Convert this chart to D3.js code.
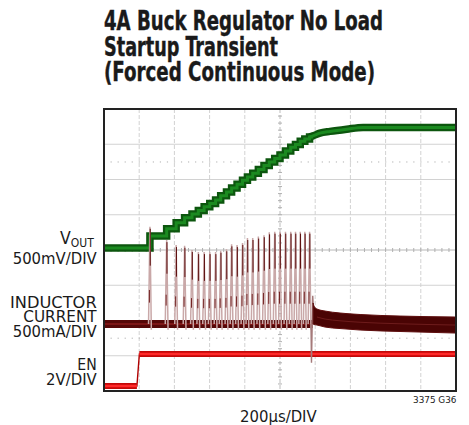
<!DOCTYPE html>
<html>
<head>
<meta charset="utf-8">
<script src="https://cdn.jsdelivr.net/npm/d3@7"></script>
<style>
  html, body { margin: 0; padding: 0; background: #fff; }
  svg { display: block; }
  text { font-family: "Liberation Sans Narrow", "DejaVu Sans Condensed", "Liberation Sans", Arial, sans-serif; fill: #1a1a1a; }
</style>
</head>
<body>
<svg id="chart" width="469" height="425"></svg>
<script>
// ---------------- DATA ----------------
const titleLines = ["4A Buck Regulator No Load", "Startup Transient", "(Forced Continuous Mode)"];
const timePerDiv = 200;            // µs / div
const xLabel = "200\u03bcs/DIV";
const figId = "3375 G36";

// switching pulse instants (µs)
const pulseTimes = [261, 356, 410, 458, 500, 536, 569, 601, 634, 663, 696, 725, 756, 787, 815, 845, 877, 909, 939, 970, 1000, 1031, 1061, 1088, 1115, 1141, 1168];
// inductor current peak of each pulse (A)
const pulsePeaks = [1.38, 1.19, 1.12, 1.11, 1.05, 1.02, 1.02, 1.02, 1.02, 1.04, 1.06, 1.13, 1.12, 1.15, 1.22, 1.22, 1.24, 1.26, 1.30, 1.31, 1.31, 1.31, 1.31, 1.31, 1.31, 1.31, 1.31];
const pulseDip = -0.08;            // A, undershoot of each pulse
// VOUT level after each pulse (V)
const voutSteps = [0.17, 0.27, 0.355, 0.426, 0.482, 0.532, 0.582, 0.631, 0.681, 0.738, 0.794, 0.851, 0.901, 0.958, 1.007, 1.057, 1.113, 1.170, 1.220, 1.269, 1.319, 1.376, 1.426, 1.468, 1.511, 1.546, 1.574];
// VOUT settling tail (µs, V)
const voutTailT = [1168, 1187, 1227, 1284, 1379, 1472, 2000];
const voutTailV = [1.574, 1.589, 1.627, 1.652, 1.684, 1.709, 1.709];
// inductor current in forced continuous mode (envelope, µs / A)
const ilTransT = 1176;  const ilTransMin = -0.55;
const ilKickT = 1186;   const ilKickMax = 0.40;
const ilEnvT = [1188, 1193, 1210, 1256, 1341, 1455, 1682, 2000];
const ilEnvTop = [0.30, 0.255, 0.213, 0.184, 0.156, 0.135, 0.113, 0.099];
const ilEnvBot = [0.0, -0.007, -0.014, -0.043, -0.064, -0.085, -0.106, -0.128];
// EN (µs, V)
const enT = [0, 187, 201, 2000];
const enV = [0, 0, 1.82, 1.82];
// channel setup: ground position (divisions from centre), units per div
const chVout = { ground: 0.06, perDiv: 0.5 };
const chIL = { ground: -2.1, perDiv: 0.5 };
const chEN = { ground: -3.86, perDiv: 2 };
const leftLabels = ["500mV/DIV", "INDUCTOR", "CURRENT", "500mA/DIV", "EN", "2V/DIV"];

// ---------------- LAYOUT ----------------
const svg = d3.select("#chart");
const L = 104, R = 456, T = 109, B = 391;
const x = d3.scaleLinear().domain([0, 10 * timePerDiv]).range([L, R]);
const yDiv = d3.scaleLinear().domain([-4, 4]).range([B, T]);
const chScale = ch => d3.scaleLinear().domain([(-4 - ch.ground) * ch.perDiv, (4 - ch.ground) * ch.perDiv]).range([B, T]);
const yV = chScale(chVout), yI = chScale(chIL), yE = chScale(chEN);

// ---------------- GRID ----------------
const g = svg.append("g");
d3.range(1, 8).forEach(d => {
  g.append("line").attr("x1", L).attr("x2", R).attr("y1", yDiv(d - 4)).attr("y2", yDiv(d - 4))
    .attr("stroke", d === 4 ? "#b8b8b8" : "#d2d2d2").attr("stroke-width", 1);
});
d3.range(1, 10).forEach(d => {
  g.append("line").attr("y1", T).attr("y2", B).attr("x1", x(d * timePerDiv)).attr("x2", x(d * timePerDiv))
    .attr("stroke", d === 5 ? "#bcbcbc" : "#d2d2d2").attr("stroke-width", 1).attr("stroke-dasharray", "4,2");
});
// minor ticks on centre lines
d3.range(0, 50).forEach(k => {
  const xx = x(k * timePerDiv / 5);
  g.append("line").attr("x1", xx).attr("x2", xx).attr("y1", yDiv(0) - 2).attr("y2", yDiv(0) + 2).attr("stroke", "#b0b0b0");
});
d3.range(0, 40).forEach(k => {
  const yy = yDiv(-4 + k / 5);
  g.append("line").attr("y1", yy).attr("y2", yy).attr("x1", x(1000) - 2).attr("x2", x(1000) + 2).attr("stroke", "#b0b0b0");
});
// dotted marker rows
[2.5, -2.5].forEach(dv => {
  d3.range(1, 50).forEach(k => {
    g.append("rect").attr("x", x(k * timePerDiv / 5) - 0.5).attr("y", yDiv(dv) - 0.5).attr("width", 1.2).attr("height", 1.2).attr("fill", "#bdbdbd");
  });
});

// ---------------- TRACES ----------------
const tr = svg.append("g");
// EN
const enPts = enT.map((t, i) => [t, enV[i]]);
tr.append("path").attr("d", d3.line().x(d => x(d[0])).y(d => yE(d[1]))(enPts))
  .attr("fill", "none").attr("stroke", "#b00000").attr("stroke-width", 1.4);
for (let i = 0; i < enPts.length - 1; i++) {
  if (enPts[i][1] === enPts[i + 1][1]) {
    const seg = [enPts[i], enPts[i + 1]];
    const ln = d3.line().x(d => x(d[0])).y(d => yE(d[1]));
    tr.append("path").attr("d", ln(seg)).attr("stroke", "#c40808").attr("stroke-width", 6).attr("fill", "none");
    tr.append("path").attr("d", ln(seg)).attr("stroke", "#ff2a2a").attr("stroke-width", 2.4).attr("fill", "none");
  }
}

// VOUT
const voutPts = [[0, 0]].concat(pulseTimes.map((t, i) => [t, voutSteps[i]])).concat([[voutTailT[1], voutSteps[voutSteps.length - 1]]]);
const stepLine = d3.line().x(d => x(d[0])).y(d => yV(d[1])).curve(d3.curveStepAfter);
const tailPts = voutTailT.map((t, i) => [t, voutTailV[i]]);
const tailLine = d3.line().x(d => x(d[0])).y(d => yV(d[1])).curve(d3.curveMonotoneX);
[["#0c560e", 7.5], ["#1b8a20", 3]].forEach(([c, w]) => {
  tr.append("path").attr("d", stepLine(voutPts)).attr("fill", "none").attr("stroke", c).attr("stroke-width", w);
  tr.append("path").attr("d", tailLine(tailPts)).attr("fill", "none").attr("stroke", c).attr("stroke-width", w);
});

// Inductor current — discontinuous part baseline
const baseLn = d3.line().x(d => x(d[0])).y(d => yI(d[1]));
tr.append("path").attr("d", baseLn([[0, 0], [ilKickT, 0]])).attr("stroke", "#560808").attr("stroke-width", 8).attr("fill", "none");
tr.append("path").attr("d", baseLn([[0, 0], [ilKickT, 0]])).attr("stroke", "#7c1616").attr("stroke-width", 2).attr("fill", "none");
// pulses
pulseTimes.forEach((t, i) => {
  const xp = x(t);
  const tri = `M${xp - 1.4},${yI(0)} L${xp},${yI(pulsePeaks[i])} L${xp + 1.4},${yI(pulseDip)}`;
  tr.append("path").attr("d", tri).attr("fill", "none").attr("stroke", "#c9a8a8").attr("stroke-width", 1.5);
  tr.append("line").attr("x1", xp + 0.3).attr("x2", xp + 0.3).attr("y1", yI(pulsePeaks[i]) + 2).attr("y2", yI((pulsePeaks[i]) * 0.6))
    .attr("stroke", "#5a0c0c").attr("stroke-width", 1);
  tr.append("line").attr("x1", xp - 0.5).attr("x2", xp - 0.5).attr("y1", yI(pulsePeaks[i] * 0.35)).attr("y2", yI(pulsePeaks[i] * 0.22))
    .attr("stroke", "#6a1414").attr("stroke-width", 0.9);
});
// transition
tr.append("path").attr("d", `M${x(ilTransT)},${yI(0)} L${x(ilTransT) + 0.5},${yI(ilTransMin)} L${x(ilKickT)},${yI(ilKickMax)} L${x(ilEnvT[0])},${yI(ilEnvTop[0])}`)
  .attr("fill", "none").attr("stroke", "#a57a7a").attr("stroke-width", 1.4);
// continuous envelope
const envPts = ilEnvT.map((t, i) => ({ t, top: ilEnvTop[i], bot: ilEnvBot[i] }));
tr.append("path").attr("d", d3.area().x(d => x(d.t)).y0(d => yI(d.bot)).y1(d => yI(d.top)).curve(d3.curveMonotoneX)(envPts))
  .attr("fill", "#4a0404").attr("stroke", "#5e0d0d").attr("stroke-width", 1);
tr.append("path").attr("d", d3.line().x(d => x(d.t)).y(d => yI((d.top + d.bot) / 2)).curve(d3.curveMonotoneX)(envPts.slice(2)))
  .attr("fill", "none").attr("stroke", "#6e1c1c").attr("stroke-width", 1);

// frame
svg.append("rect").attr("x", L).attr("y", T).attr("width", R - L).attr("height", B - T)
  .attr("fill", "none").attr("stroke", "#222").attr("stroke-width", 2);

// ---------------- TEXT ----------------
const fit = (sel, w) => sel.attr("textLength", w).attr("lengthAdjust", "spacingAndGlyphs");
const titleW = [279, 174, 271];
const titleY = [30, 55.5, 81];
titleLines.forEach((s, i) => {
  fit(svg.append("text").attr("x", 104).attr("y", titleY[i]).attr("font-size", 26).attr("font-weight", "bold")
    .style("stroke", "#1a1a1a").style("stroke-width", 0.4).text(s), titleW[i]);
});

// VOUT label with subscript
const vt = svg.append("text").attr("x", 60).attr("y", 243.5).attr("font-size", 17.5);
vt.append("tspan").text("V");
vt.append("tspan").attr("font-size", 12).attr("dy", 3).text("OUT");

const labY = [263.5, 307.5, 322, 336.5, 370, 384.5];
const labX = [12.7, 10, 23.3, 12.7, 77.3, 46];
leftLabels.forEach((s, i) => {
  fit(svg.append("text").attr("x", labX[i]).attr("y", labY[i]).attr("font-size", 15.5).text(s), 96.7 - labX[i]);
});
fit(svg.append("text").attr("x", 240).attr("y", 421.5).attr("font-size", 16).text(xLabel), 76.7);
fit(svg.append("text").attr("x", 413).attr("y", 403).attr("font-size", 8.5).text(figId), 43.5);
</script>
</body>
</html>
